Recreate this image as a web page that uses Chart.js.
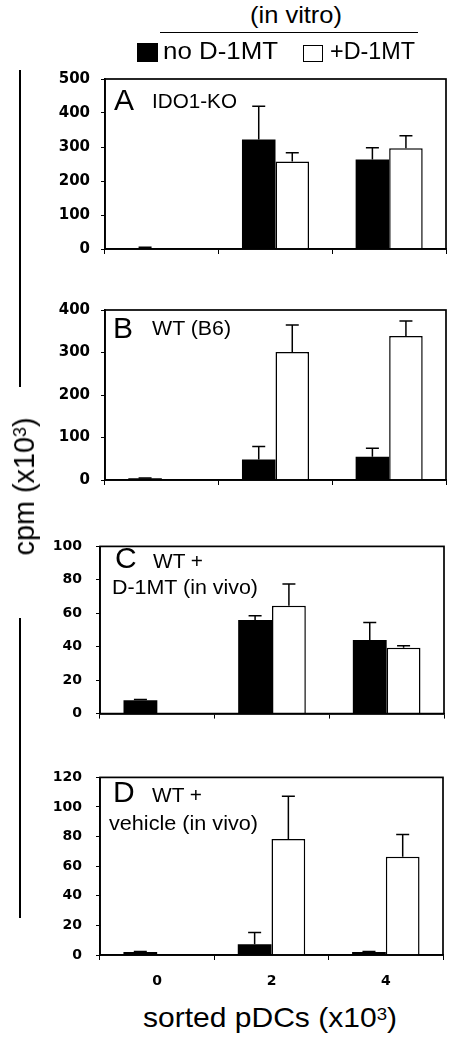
<!DOCTYPE html>
<html><head><meta charset="utf-8">
<script src="https://cdn.jsdelivr.net/npm/chart.js@4.4.1/dist/chart.umd.min.js"></script>
<style>
html,body{margin:0;padding:0;background:#fff;}
body{width:450px;height:1041px;position:relative;overflow:hidden;font-family:"Liberation Sans",Arial,Helvetica,sans-serif;color:#000;}
canvas{position:absolute;left:0;}
.t{position:absolute;white-space:nowrap;line-height:1;transform-origin:0 0;}
.t sup{font-size:0.62em;position:relative;top:-0.45em;vertical-align:baseline;line-height:0;}
.vl{position:absolute;left:19px;width:1.5px;background:#000;}
.hl{position:absolute;height:1.5px;background:#000;}
.sq{position:absolute;box-sizing:border-box;}
</style></head><body>
<canvas id="cA"></canvas>
<canvas id="cB"></canvas>
<canvas id="cC"></canvas>
<canvas id="cD"></canvas>
<script>
// ---- data ----
const categories = ['0', '2', '4'];
const seriesNames = ['no D-1MT', '+D-1MT'];

const A_noD1MT = [3, 322, 263];
const A_noD1MT_err = [2, 98, 35];
const A_plusD1MT = [null, 257, 296];
const A_plusD1MT_err = [0, 26, 37];
const A_yTicks = [0, 100, 200, 300, 400, 500];

const B_noD1MT = [4, 48, 55];
const B_noD1MT_err = [1, 31, 20];
const B_plusD1MT = [null, 301, 339];
const B_plusD1MT_err = [0, 64, 35];
const B_yTicks = [0, 100, 200, 300, 400];

const C_noD1MT = [8, 56, 44];
const C_noD1MT_err = [0.5, 2.5, 10.5];
const C_plusD1MT = [null, 64.5, 39.4];
const C_plusD1MT_err = [0, 13, 1.2];
const C_yTicks = [0, 20, 40, 60, 80, 100];

const D_noD1MT = [2, 7.2, 2];
const D_noD1MT_err = [0.3, 8, 0.3];
const D_plusD1MT = [null, 78.3, 66.4];
const D_plusD1MT_err = [0, 29, 15];
const D_yTicks = [0, 20, 40, 60, 80, 100, 120];

// ---- plugins ----
const errPlugin = {
  id: 'errbars',
  afterDatasetsDraw(chart) {
    const ctx = chart.ctx, y = chart.scales.y;
    ctx.save();
    ctx.strokeStyle = '#000';
    ctx.lineWidth = 1.5;
    chart.data.datasets.forEach((ds, i) => {
      const meta = chart.getDatasetMeta(i);
      meta.data.forEach((el, j) => {
        const v = ds.data[j], e = ds.errors[j];
        if (v == null || !e) return;
        const yt = y.getPixelForValue(v + e);
        ctx.beginPath();
        ctx.moveTo(el.x, el.y);
        ctx.lineTo(el.x, yt);
        ctx.moveTo(el.x - 6.5, yt);
        ctx.lineTo(el.x + 6.5, yt);
        ctx.stroke();
      });
    });
    ctx.restore();
  }
};
const framePlugin = {
  id: 'frame',
  afterDraw(chart) {
    const a = chart.chartArea, ctx = chart.ctx;
    ctx.save();
    ctx.strokeStyle = '#000';
    ctx.lineWidth = 1.7;
    ctx.strokeRect(a.left, a.top, a.right - a.left, a.bottom - a.top);
    ctx.restore();
  }
};

function makePanel(id, p) {
  const padTop = 12;
  const cv = document.getElementById(id);
  cv.width = 450;
  cv.height = padTop + (p.bottom - p.top) + p.xh;
  cv.style.top = (p.top - padTop) + 'px';
  const tickFont = {family: "'DejaVu Sans', Verdana, sans-serif", weight: 'bold', size: p.fs};
  new Chart(cv, {
    type: 'bar',
    data: {
      labels: categories,
      datasets: [
        {label: seriesNames[0], data: p.black, errors: p.blackErr, backgroundColor: '#000', borderColor: '#000', borderWidth: 0, categoryPercentage: 0.59, barPercentage: 1},
        {label: seriesNames[1], data: p.white, errors: p.whiteErr, backgroundColor: '#fff', borderColor: '#000', borderWidth: 1.5, categoryPercentage: 0.59, barPercentage: 1}
      ]
    },
    options: {
      responsive: false, animation: false, devicePixelRatio: 1,
      layout: {padding: {top: padTop, right: 450 - p.right, left: 0, bottom: 0}},
      plugins: {legend: {display: false}, tooltip: {enabled: false}},
      scales: {
        x: {
          grid: {offset: true, drawOnChartArea: false, drawTicks: true, tickLength: 5, color: '#000', lineWidth: 1},
          border: {display: true, color: '#000', width: 1.7},
          ticks: {display: p.showX, font: {family: "'DejaVu Sans', Verdana, sans-serif", weight: 'bold', size: 14}, color: '#000', padding: 13, maxRotation: 0},
          afterFit(s) { s.height = p.xh; }
        },
        y: {
          min: p.ticks[0], max: p.ticks[p.ticks.length - 1],
          afterBuildTicks(s) { s.ticks = p.ticks.map(v => ({value: v})); },
          grid: {drawOnChartArea: false, drawTicks: true, tickLength: 4, color: '#000', lineWidth: 1},
          border: {display: true, color: '#000', width: 1.7},
          ticks: {font: tickFont, color: '#000', padding: p.pad},
          afterFit(s) { s.width = p.left; }
        }
      }
    },
    plugins: [errPlugin, framePlugin]
  });
}

makePanel('cA', {black: A_noD1MT, blackErr: A_noD1MT_err, white: A_plusD1MT, whiteErr: A_plusD1MT_err, ticks: A_yTicks,
  left: 105, right: 446, top: 71, bottom: 259, xh: 10, showX: false, fs: 15, pad: 11});
makePanel('cB', {black: B_noD1MT, blackErr: B_noD1MT_err, white: B_plusD1MT, whiteErr: B_plusD1MT_err, ticks: B_yTicks,
  left: 105, right: 446, top: 302, bottom: 490, xh: 10, showX: false, fs: 15, pad: 11});
makePanel('cC', {black: C_noD1MT, blackErr: C_noD1MT_err, white: C_plusD1MT, whiteErr: C_plusD1MT_err, ticks: C_yTicks,
  left: 100, right: 444, top: 536, bottom: 726, xh: 10, showX: false, fs: 14, pad: 14});
makePanel('cD', {black: D_noD1MT, blackErr: D_noD1MT_err, white: D_plusD1MT, whiteErr: D_plusD1MT_err, ticks: D_yTicks,
  left: 100, right: 443, top: 767, bottom: 955, xh: 40, showX: true, fs: 14, pad: 14});

// ---- text & decorations ----
function place(html, x, baseline, size, width, rotate) {
  const el = document.createElement('div');
  el.className = 't';
  el.innerHTML = html;
  el.style.fontSize = size + 'px';
  document.body.appendChild(el);
  const w = el.getBoundingClientRect().width;
  const sx = width ? width / w : 1;
  if (!rotate) {
    el.style.left = x + 'px';
    el.style.top = (baseline - 0.8465 * size) + 'px';
    el.style.transform = 'scaleX(' + sx + ')';
  } else {
    el.style.transformOrigin = '50% 50%';
    el.style.left = (x - w / 2) + 'px';
    el.style.top = (baseline - size / 2) + 'px';
    el.style.transform = 'rotate(-90deg) scaleX(' + sx + ')';
  }
  return el;
}
function box(cls, l, t, w, h, css) {
  const d = document.createElement('div');
  d.className = cls;
  if (l != null) d.style.left = l + 'px';
  d.style.top = t + 'px';
  if (w != null) d.style.width = w + 'px';
  if (h != null) d.style.height = h + 'px';
  if (css) Object.assign(d.style, css);
  document.body.appendChild(d);
}

place('(in vitro)', 250, 23, 24, 92);
box('hl', 160, 31.5, 258, null);
box('sq', 137, 43, 21, 19, {background: '#000'});
place(seriesNames[0], 163, 59, 24, 115);
box('sq', 303, 45, 20, 17, {background: '#fff', border: '1.5px solid #000'});
place(seriesNames[1], 330, 59, 24, 85);

box('vl', null, 70, null, 317);
box('vl', null, 618, null, 300);
place('cpm (x10<sup>3</sup>)', 24, 486, 29, 138, true);

place('A', 114, 110, 30);
place('IDO1-KO', 152, 108, 20, 85);
place('B', 113, 338, 30);
place('WT (B6)', 152, 335, 20, 79);
place('C', 115, 568, 30);
place('WT +', 153, 568, 20, 50);
place('D-1MT (in vivo)', 112, 594, 20, 146);
place('D', 113, 802, 30);
place('WT +', 152, 802, 20, 50);
place('vehicle (in vivo)', 109, 830, 20, 149);

place('sorted pDCs (x10<sup>3</sup>)', 143, 1028, 28, 254);
</script>
</body></html>
